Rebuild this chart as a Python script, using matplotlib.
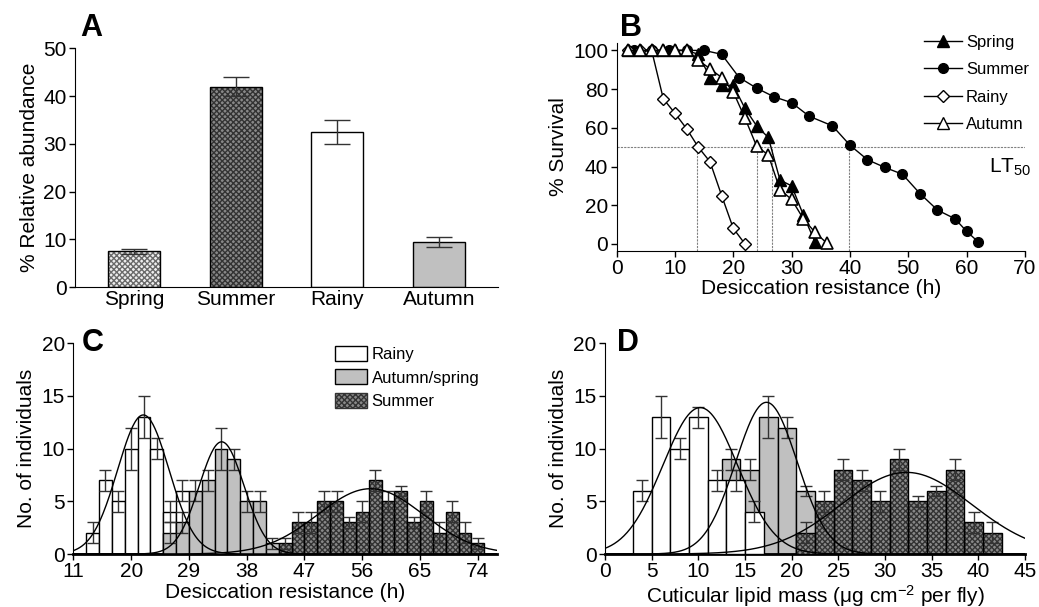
import numpy as np
import matplotlib.pyplot as plt
from matplotlib.patches import Patch
from matplotlib.lines import Line2D

plt.rcParams['font.family'] = 'Liberation Sans'
plt.rcParams['mathtext.fontset'] = 'custom'
plt.rcParams['mathtext.rm'] = 'Liberation Sans'
plt.rcParams['mathtext.default'] = 'regular'

# --- panel A: relative abundance
seasons = ['Spring', 'Summer', 'Rainy', 'Autumn']
abundance = [7.5, 42, 32.5, 9.5]
abundance_err = [0.5, 2, 2.5, 1]

# --- panel B: survival curves
spring_t = [2, 4, 6, 8, 10, 12, 14, 16, 18, 20, 22, 24, 26, 28, 30, 32, 34]
spring_s = [100, 100, 100, 100, 100, 100, 98, 86, 82, 82, 70, 61, 55, 33, 30, 15, 1]
summer_t = [3, 6, 9, 12, 15, 18, 21, 24, 27, 30, 33, 37, 40, 43, 46, 49, 52, 55, 58, 60, 62]
summer_s = [100, 100, 100, 100, 100, 98, 86, 80.5, 76, 73, 66, 61, 51, 43.5, 39.5, 36, 26, 17.5, 13, 6.5, 1]
rainy_t = [2, 4, 6, 8, 10, 12, 14, 16, 18, 20, 22]
rainy_s = [100, 100, 100, 75, 67.5, 59.5, 50, 42.5, 25, 8, 0]
autumn_t = [2, 4, 6, 8, 10, 12, 14, 16, 18, 20, 22, 24, 26, 28, 30, 32, 34, 36]
autumn_s = [100, 100, 100, 100, 100, 100, 95, 90.5, 86, 78.5, 65, 50.5, 46, 28, 23, 13, 6, 0.5]
lt50 = [13.7, 24.0, 26.6, 39.9]

# --- panel C: desiccation resistance histograms
c_rainy_x = [14, 16, 18, 20, 22, 24, 26, 28]
c_rainy_n = [2, 7, 5, 10, 13, 10, 4, 6]
c_rainy_err = [1, 1, 1, 2, 2, 1, 1, 1]
c_autspr_x = [26, 28, 30, 32, 34, 36, 38, 40, 42]
c_autspr_n = [2, 3, 6, 7, 10, 9, 5, 5, 1]
c_autspr_err = [1, 1, 1, 1, 2, 1, 1, 1, 0.5]
c_summer_x = [44, 46, 48, 50, 52, 54, 56, 58, 60, 62, 64, 66, 68, 70, 72, 74]
c_summer_n = [1, 3, 3, 5, 5, 3, 4, 7, 5, 6, 3, 5, 2, 4, 2, 1]
c_summer_err = [0.5, 1, 1, 1, 1, 0.5, 1, 1, 1, 0.5, 0.5, 1, 1, 1, 1, 0.5]
# fitted normal curves: peak, mean, sd (rainy, autumn/spring, summer)
c_fit_peak = [13.2, 10.65, 6.2]
c_fit_mean = [21.9, 34.1, 57.3]
c_fit_sd = [4.0, 3.5, 8.2]

# --- panel D: cuticular lipid histograms
d_rainy_x = [4, 6, 8, 10, 12, 14, 16]
d_rainy_n = [6, 13, 10, 13, 7, 7, 4]
d_rainy_err = [1, 2, 1, 1, 1, 1, 1]
d_autspr_x = [13.5, 15.5, 17.5, 19.5, 21.5]
d_autspr_n = [9, 8, 13, 12, 6]
d_autspr_err = [1, 1, 2, 1, 0.5]
d_summer_x = [21.5, 23.5, 25.5, 27.5, 29.5, 31.5, 33.5, 35.5, 37.5, 39.5, 41.5]
d_summer_n = [2, 5, 8, 7, 5, 9, 5, 6, 8, 3, 2]
d_summer_err = [1, 1, 1, 1, 1, 1, 0.5, 0.5, 1, 1, 1]
d_fit_peak = [13.9, 14.4, 7.75]
d_fit_mean = [10.2, 17.3, 32.3]
d_fit_sd = [4.0, 3.3, 7.0]

FS = 15
LFS = 12
WHITE = 'white'
GRAY = '#c0c0c0'
DARK = '#888888'
DARK_HATCH = '#333333'
LIGHT = '#eeeeee'
LIGHT_HATCH = '#6a6a6a'


def style(ax):
	for s in ['top', 'right']:
		ax.spines[s].set_visible(False)
	ax.tick_params(direction='out', length=4, width=1, labelsize=FS, pad=2)


def hbar(ax, x, h, w, face, hatch=None, hatchcol=None, z=2):
	if hatch:
		ax.bar(x, h, w, color=face, hatch=hatch, edgecolor=hatchcol, linewidth=0, zorder=z)
		ax.bar(x, h, w, fill=False, edgecolor='k', linewidth=1, zorder=z)
	else:
		ax.bar(x, h, w, color=face, edgecolor='k', linewidth=1, zorder=z)


def errs(ax, x, h, e, cap, z):
	ax.errorbar(x, h, yerr=e, fmt='none', ecolor='#333333', elinewidth=1, capsize=cap, capthick=1, zorder=z)


fig = plt.figure(figsize=(10.39, 6.07), dpi=100)

# ---------------- A
axA = fig.add_axes([0.0722, 0.5267, 0.4071, 0.3937])
style(axA)
xa = np.arange(len(seasons))
hbar(axA, xa[0], abundance[0], 0.51, LIGHT, 'xxxxxx', LIGHT_HATCH)
hbar(axA, xa[1], abundance[1], 0.51, DARK, 'xxxxxx', DARK_HATCH)
hbar(axA, xa[2], abundance[2], 0.51, WHITE)
hbar(axA, xa[3], abundance[3], 0.51, GRAY)
errs(axA, xa, abundance, abundance_err, 9.5, 3)
axA.set_xlim(-0.58, 3.58)
axA.set_ylim(0, 50)
axA.set_yticks([0, 10, 20, 30, 40, 50])
axA.set_xticks(xa)
axA.set_xticklabels(seasons)
axA.tick_params(axis='x', length=0, pad=2)
axA.set_ylabel('% Relative abundance', fontsize=FS, labelpad=3)

# ---------------- B
axB = fig.add_axes([0.5935, 0.587, 0.393, 0.3427])
style(axB)
ylo = -3.5
axB.plot([0, 70], [50, 50], color='#808080', lw=0.8, ls=(0, (2, 1)), zorder=1)
axB.vlines(lt50, ylo, 50, color='#808080', lw=0.8, ls=(0, (2, 1)), zorder=1)
axB.plot(summer_t, summer_s, 'k-', lw=1, marker='o', ms=7, mfc='k', mec='k', zorder=3)
axB.plot(spring_t, spring_s, 'k-', lw=1, marker='^', ms=8, mfc='k', mec='k', zorder=4)
axB.plot(rainy_t, rainy_s, 'k-', lw=1, marker='D', ms=6, mfc='white', mec='k', zorder=5)
axB.plot(autumn_t, autumn_s, 'k-', lw=1, marker='^', ms=8, mfc='white', mec='k', mew=1.2, zorder=6)
axB.text(71, 37, 'LT$_{50}$', fontsize=FS, ha='right', va='baseline')
axB.set_xlim(0, 70)
axB.set_ylim(ylo, 104)
axB.set_xticks(range(0, 71, 10))
axB.set_yticks(range(0, 101, 20))
axB.set_xlabel('Desiccation resistance (h)', fontsize=FS, labelpad=1)
axB.set_ylabel('% Survival', fontsize=FS)
hB = [Line2D([], [], color='k', lw=1, marker='^', ms=8, mfc='k', mec='k'),
	  Line2D([], [], color='k', lw=1, marker='o', ms=7, mfc='k', mec='k'),
	  Line2D([], [], color='k', lw=1, marker='D', ms=6, mfc='white', mec='k'),
	  Line2D([], [], color='k', lw=1, marker='^', ms=8, mfc='white', mec='k')]
axB.legend(hB, ['Spring', 'Summer', 'Rainy', 'Autumn'], loc='upper left', bbox_to_anchor=(0.715, 1.11),
		   frameon=False, fontsize=LFS, handlelength=2.3, handletextpad=0.25, labelspacing=0.75)

# ---------------- C
axC = fig.add_axes([0.0706, 0.0873, 0.4078, 0.3471])
style(axC)
hbar(axC, c_rainy_x, c_rainy_n, 2, WHITE, z=2)
errs(axC, c_rainy_x, c_rainy_n, c_rainy_err, 4.3, 2.5)
hbar(axC, c_autspr_x, c_autspr_n, 2, GRAY, z=3)
errs(axC, c_autspr_x, c_autspr_n, c_autspr_err, 4.3, 3.5)
hbar(axC, c_summer_x, c_summer_n, 2, DARK, 'xxxxxx', DARK_HATCH, z=4)
errs(axC, c_summer_x, c_summer_n, c_summer_err, 4.3, 4.5)
xc = np.linspace(11, 77, 400)
for p, m, s in zip(c_fit_peak, c_fit_mean, c_fit_sd):
	axC.plot(xc, p * np.exp(-0.5 * ((xc - m) / s) ** 2), 'k-', lw=1, zorder=6)
axC.set_xlim(11, 77)
axC.set_ylim(0, 20)
axC.set_xticks(range(11, 75, 9))
axC.set_yticks(range(0, 21, 5))
axC.spines['bottom'].set_linewidth(2)
axC.set_xlabel('Desiccation resistance (h)', fontsize=FS, labelpad=1)
axC.set_ylabel('No. of individuals', fontsize=FS)
hC = [Patch(facecolor=WHITE, edgecolor='k'), Patch(facecolor=GRAY, edgecolor='k'),
	  Patch(facecolor=DARK, edgecolor=DARK_HATCH, hatch='xxxxxx')]
legC = axC.legend(hC, ['Rainy', 'Autumn/spring', 'Summer'], loc='upper left', bbox_to_anchor=(0.582, 1.06),
		   frameon=False, fontsize=LFS, handlelength=1.9, handleheight=1.0, handletextpad=0.3, labelspacing=0.45)
for ph in legC.get_patches():
	ph.set_linewidth(1)

# ---------------- D
axD = fig.add_axes([0.5823, 0.0873, 0.4042, 0.3471])
style(axD)
hbar(axD, d_autspr_x, d_autspr_n, 2, GRAY, z=2)
errs(axD, d_autspr_x, d_autspr_n, d_autspr_err, 4.3, 2.5)
hbar(axD, d_rainy_x, d_rainy_n, 2, WHITE, z=3)
errs(axD, d_rainy_x, d_rainy_n, d_rainy_err, 4.3, 3.5)
hbar(axD, d_summer_x, d_summer_n, 2, DARK, 'xxxxxx', DARK_HATCH, z=4)
errs(axD, d_summer_x, d_summer_n, d_summer_err, 4.3, 4.5)
xd = np.linspace(0, 45, 400)
for p, m, s in zip(d_fit_peak, d_fit_mean, d_fit_sd):
	axD.plot(xd, p * np.exp(-0.5 * ((xd - m) / s) ** 2), 'k-', lw=1, zorder=6)
axD.set_xlim(0, 45)
axD.set_ylim(0, 20)
axD.set_xticks(range(0, 46, 5))
axD.set_yticks(range(0, 21, 5))
axD.spines['bottom'].set_linewidth(2)
axD.set_xlabel('Cuticular lipid mass (μg cm$^{-2}$ per fly)', fontsize=FS, labelpad=1)
axD.set_ylabel('No. of individuals', fontsize=FS)

# panel letters
for lab, x, y in [('A', 80, 36), ('B', 620, 36), ('C', 82, 351), ('D', 617, 351)]:
	fig.text(x / 1039, 1 - y / 607, lab, fontsize=22, fontweight='bold', ha='left', va='baseline')

fig.savefig('out.png', dpi=100)
